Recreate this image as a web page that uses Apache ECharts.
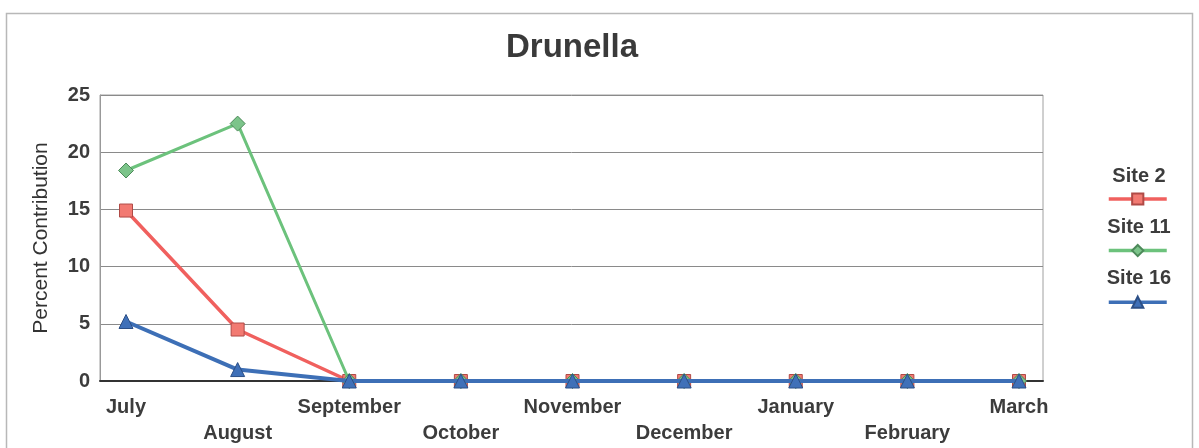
<!DOCTYPE html>
<html>
<head>
<meta charset="utf-8">
<style>
  html, body { margin: 0; padding: 0; background: #fff; }
  #chart { width: 1199px; height: 448px; }
</style>
<script src="https://cdn.jsdelivr.net/npm/echarts@6/dist/echarts.min.js"></script>
</head>
<body>
<div id="chart"></div>
<script>
// Months sampled
const months = ['July', 'August', 'September', 'October', 'November', 'December', 'January', 'February', 'March'];

// Percent contribution of Drunella at each site
const site2 = [14.9, 4.5, 0, 0, 0, 0, 0, 0, 0];
const site11 = [18.4, 22.5, 0, 0, 0, 0, 0, 0, 0];
const site16 = [5.2, 1.0, 0, 0, 0, 0, 0, 0, 0];

// Value axis ticks
const yTicks = [0, 5, 10, 15, 20, 25];

const FONT = '"Liberation Sans", Arial, sans-serif';
const chart = echarts.init(document.getElementById('chart'), null, { renderer: 'canvas' });

const seriesDefs = [
  { name: 'Site 2', data: site2, color: '#f0605e', fill: '#f27a72', border: '#b04a46', symbol: 'rect', size: 13, width: 3.5 },
  { name: 'Site 11', data: site11, color: '#6cc27c', fill: '#7cc48a', border: '#4d8a5a', symbol: 'diamond', size: 15, width: 3 },
  { name: 'Site 16', data: site16, color: '#3d6fb6', fill: '#3f70b8', border: '#2c4f86', symbol: 'triangle', size: 14, width: 4 }
];

const option = {
  backgroundColor: '#fff',
  animation: false,
  title: {
    text: 'Drunella',
    left: 567,
    top: 26,
    textAlign: 'center',
    textStyle: { fontFamily: FONT, fontSize: 33, fontWeight: 'bold', color: '#3a3a3a' }
  },
  graphic: [{
    type: 'rect',
    shape: { x: 6.5, y: 13.5, width: 1186, height: 440 },
    style: { fill: 'none', stroke: '#b8b8b8', lineWidth: 1.5 },
    silent: true,
    z: -10
  }],
  legend: [
    {
      // series names, centred above their line samples
      orient: 'vertical',
      left: 1096,
      top: 161,
      itemGap: 31,
      itemWidth: 0,
      itemHeight: 0,
      icon: 'none',
      data: seriesDefs.map(s => s.name),
      formatter: n => '{c|' + n + '}',
      textStyle: {
        padding: [0, 0, 0, -5],
        rich: { c: { width: 76, align: 'center', fontFamily: FONT, fontSize: 20, fontWeight: 'bold', color: '#3c3c3c' } }
      }
    },
    {
      // line samples
      orient: 'vertical',
      left: 1102,
      top: 187,
      itemGap: 38,
      itemWidth: 58,
      itemHeight: 14,
      data: seriesDefs.map(s => s.name),
      formatter: () => '',
      lineStyle: { width: 3.5 },
      textStyle: { fontSize: 1 }
    }
  ],
  grid: [
    { left: 100, top: 95, width: 943, height: 286, show: true, borderColor: '#a0a0a0', borderWidth: 1, backgroundColor: '#fff', outerBoundsMode: 'none' },
    { left: 126, top: 95, width: 893, height: 286, outerBoundsMode: 'none' }
  ],
  xAxis: [
    {
      gridIndex: 0, type: 'value', min: 0, max: 1,
      axisLine: { show: true, lineStyle: { color: '#333', width: 2 } },
      axisTick: { show: false }, axisLabel: { show: false }, splitLine: { show: false }
    },
    {
      gridIndex: 1, type: 'category', data: months, boundaryGap: false,
      axisLine: { show: false }, axisTick: { show: false }, splitLine: { show: false },
      axisLabel: {
        interval: 0,
        margin: 13,
        lineHeight: 26,
        fontFamily: FONT, fontSize: 20, fontWeight: 'bold', color: '#3c3c3c',
        formatter: (v, i) => (i % 2 === 1 ? '\n' + v : v)
      }
    }
  ],
  yAxis: [
    {
      gridIndex: 0, type: 'value', min: yTicks[0], max: yTicks[yTicks.length - 1], interval: 5,
      name: 'Percent Contribution',
      nameLocation: 'middle',
      nameGap: 48,
      nameTextStyle: { fontFamily: FONT, fontSize: 21, color: '#333' },
      axisLine: { show: true, lineStyle: { color: '#999' } },
      axisTick: { show: false },
      axisLabel: { margin: 10, fontFamily: FONT, fontSize: 20, fontWeight: 'bold', color: '#3c3c3c' },
      splitLine: { show: true, lineStyle: { color: '#8a8a8a', width: 1 } }
    },
    {
      gridIndex: 1, type: 'value', min: yTicks[0], max: yTicks[yTicks.length - 1], show: false
    }
  ],
  series: seriesDefs.map((s, k) => ({
    name: s.name,
    type: 'line',
    xAxisIndex: 1,
    yAxisIndex: 1,
    data: s.data,
    symbol: s.symbol,
    symbolSize: s.size,
    showAllSymbol: true,
    lineStyle: { color: s.color, width: s.width },
    itemStyle: { color: s.fill, borderColor: s.border, borderWidth: 1 },
    z: 2 + k
  }))
};

chart.setOption(option);
</script>
</body>
</html>
